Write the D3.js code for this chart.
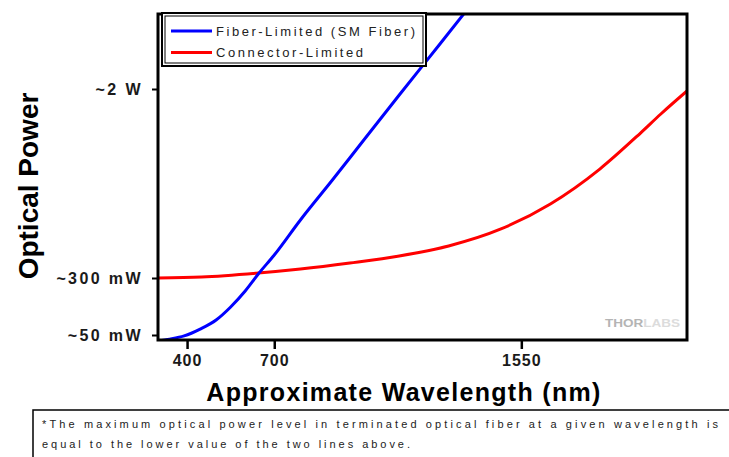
<!DOCTYPE html>
<html>
<head>
<meta charset="utf-8">
<script src="https://cdn.jsdelivr.net/npm/d3@7"></script>
<style>
  body { margin: 0; background: #fff; }
  text { font-family: "Liberation Sans", Arial, sans-serif; }
</style>
</head>
<body>
<div id="chart-area"></div>
<script>

// wavelength (nm) and power (mW)
var fiberWl    = [300, 340, 390, 445, 500, 550, 600, 645, 700, 790, 900, 1000, 1130, 1270, 1360];
var fiberPow   = [24, 32, 46, 76, 116, 173, 243, 336, 507, 822, 1181, 1514, 1946, 2405, 2702];

var connWl     = [300, 450, 645, 790, 960, 1130, 1300, 1480, 1650, 1820, 1960, 2030, 2120];
var connPow    = [300, 309, 345, 381, 435, 498, 588, 741, 966, 1280, 1604, 1775, 1982];

var xTicks     = [400, 700, 1550];
var yTicks     = [50, 300, 2000];
var yTickNames = ["~50 mW", "~300 mW", "~2 W"];

var seriesNames = ["Fiber-Limited (SM Fiber)", "Connector-Limited"];

var total_width = 729;
var total_height = 457;

var svg = d3.select('#chart-area').append('svg')
            .attr("width", total_width)
            .attr("height", total_height)
            .style("display", "block");

var plotL = 158, plotR = 687, plotT = 14, plotB = 340;

var x = d3.scaleLinear().domain([300, 2120]).range([plotL, plotR]);
// the power axis is not linear or log: piecewise between the three marks
var y = d3.scaleLinear().domain(yTicks).range([335, 278, 89]);

svg.append("clipPath").attr("id", "plot-clip")
   .append("rect")
   .attr("x", plotL).attr("y", plotT)
   .attr("width", plotR - plotL).attr("height", plotB - plotT);

var lineFunction = d3.line()
             .x(function(d) { return x(d[0]); })
             .y(function(d) { return y(d[1]); })
             .curve(d3.curveMonotoneX);

var fiberData = fiberWl.map(function(w, i) { return [w, fiberPow[i]]; });
var connData = connWl.map(function(w, i) { return [w, connPow[i]]; });

var plot = svg.append("g").attr("clip-path", "url(#plot-clip)");

plot.append("path")
    .datum(connData)
    .attr("d", lineFunction)
    .attr("fill", "none")
    .attr("stroke", "#ff0000")
    .attr("stroke-width", 3);

plot.append("path")
    .datum(fiberData)
    .attr("d", lineFunction)
    .attr("fill", "none")
    .attr("stroke", "#0000ff")
    .attr("stroke-width", 3);

// watermark
var wm = svg.append("text")
            .attr("x", 605)
            .attr("y", 327)
            .attr("font-size", "11px")
            .attr("font-weight", "bold")
            .attr("textLength", 75)
            .attr("lengthAdjust", "spacingAndGlyphs");
wm.append("tspan").text("THOR").attr("fill", "#b4b4b4");
wm.append("tspan").text("LABS").attr("fill", "#dcdcdc");

// frame
svg.append("rect")
   .attr("x", plotL).attr("y", plotT)
   .attr("width", plotR - plotL).attr("height", plotB - plotT)
   .attr("fill", "none")
   .attr("stroke", "#000")
   .attr("stroke-width", 3);

// axes
var xAxis = d3.axisBottom(x).tickValues(xTicks).tickSize(8).tickPadding(6)
              .tickFormat(d3.format("d"));
var gx = svg.append("g")
            .attr("transform", "translate(0," + (plotB + 1) + ")")
            .call(xAxis);
gx.select(".domain").remove();
gx.selectAll(".tick line").attr("stroke", "#000").attr("stroke-width", 2.5);
gx.selectAll(".tick text")
  .attr("fill", "#1a1a1a")
  .attr("font-size", "16px")
  .attr("font-weight", "bold")
  .attr("font-family", "Liberation Sans, Arial, sans-serif")
  .attr("letter-spacing", "1px");

var yAxis = d3.axisLeft(y).tickValues(yTicks).tickSize(5).tickPadding(9)
              .tickFormat(function(d, i) { return yTickNames[i]; });
var gy = svg.append("g")
            .attr("transform", "translate(" + (plotL - 1) + ",0)")
            .call(yAxis);
gy.select(".domain").remove();
gy.selectAll(".tick line").attr("stroke", "#000").attr("stroke-width", 2);
gy.selectAll(".tick text")
  .attr("fill", "#1a1a1a")
  .attr("font-size", "16px")
  .attr("font-weight", "bold")
  .attr("font-family", "Liberation Sans, Arial, sans-serif")
  .attr("letter-spacing", "2.4px");

// axis titles
svg.append("text")
   .attr("x", 404)
   .attr("y", 401)
   .attr("text-anchor", "middle")
   .attr("font-size", "25px")
   .attr("font-weight", "bold")
   .attr("letter-spacing", "1.3px")
   .attr("fill", "#000")
   .text("Approximate Wavelength (nm)");

svg.append("text")
   .attr("transform", "translate(38,186) rotate(-90)")
   .attr("text-anchor", "middle")
   .attr("font-size", "28px")
   .attr("font-weight", "bold")
   .attr("fill", "#000")
   .text("Optical Power");

// legend
var legend = svg.append("g");
legend.append("rect")
      .attr("x", 162).attr("y", 13)
      .attr("width", 264).attr("height", 53)
      .attr("fill", "#fff")
      .attr("stroke", "#000")
      .attr("stroke-width", 2);
legend.append("rect")
      .attr("x", 165).attr("y", 16)
      .attr("width", 258).attr("height", 47)
      .attr("fill", "none")
      .attr("stroke", "#000")
      .attr("stroke-width", 1);

var legendColors = ["#0000ff", "#ff0000"];
var legendLens = [199, 147];
seriesNames.forEach(function(name, i) {
  var cy = 31 + i * 21.5;
  legend.append("line")
        .attr("x1", 171).attr("x2", 212)
        .attr("y1", cy).attr("y2", cy)
        .attr("stroke", legendColors[i])
        .attr("stroke-width", 3);
  legend.append("text")
        .attr("x", 216)
        .attr("y", cy + 4.5)
        .attr("font-size", "13px")
        .attr("fill", "#222")
        .attr("textLength", legendLens[i])
        .attr("lengthAdjust", "spacing")
        .text(name);
});

// footnote
svg.append("rect")
   .attr("x", 33).attr("y", 410)
   .attr("width", 720).attr("height", 80)
   .attr("fill", "none")
   .attr("stroke", "#000")
   .attr("stroke-width", 1.5);

svg.append("text")
   .attr("x", 42).attr("y", 428)
   .attr("font-size", "11px")
   .attr("fill", "#222")
   .attr("textLength", 676)
   .attr("lengthAdjust", "spacing")
   .text("*The maximum optical power level in terminated optical fiber at a given wavelength is");

svg.append("text")
   .attr("x", 42).attr("y", 448)
   .attr("font-size", "11px")
   .attr("fill", "#222")
   .attr("textLength", 368)
   .attr("lengthAdjust", "spacing")
   .text("equal to the lower value of the two lines above.");

</script>
</body>
</html>
